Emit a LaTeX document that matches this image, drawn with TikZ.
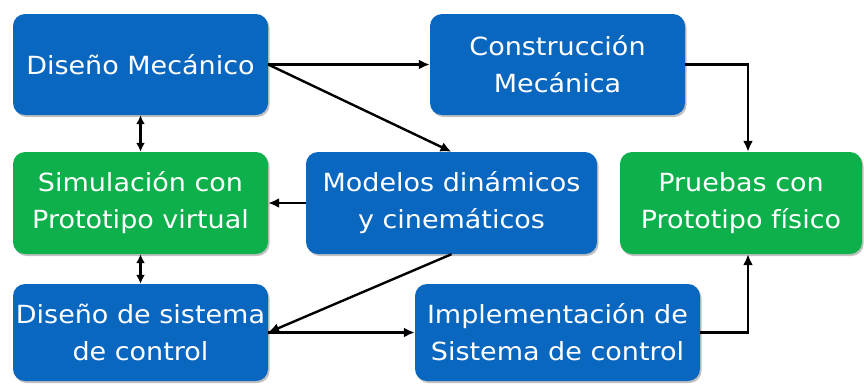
\documentclass[tikz,border=0pt]{standalone}
\usepackage{fontspec}
\setmainfont[FakeStretch=1.08]{DejaVu Sans}
\usetikzlibrary{arrows.meta,shadows}
\definecolor{boxblue}{RGB}{10,103,192}
\definecolor{boxgreen}{RGB}{13,176,75}
\begin{document}
\begin{tikzpicture}[x=1pt,y=-1pt,
  box/.style={rounded corners=12pt, text=white, align=center, inner sep=0pt,
    font=\fontsize{25}{37}\selectfont,
    drop shadow={shadow xshift=1.5pt, shadow yshift=-2pt, opacity=0.35, fill=black!70}},
  bluebox/.style={box, fill=boxblue},
  greenbox/.style={box, fill=boxgreen},
  conn/.style={line width=2.4pt, -{Latex[length=11pt,width=10pt]}},
  dconn/.style={line width=2.4pt, {Latex[length=9pt,width=9pt]}-{Latex[length=9pt,width=9pt]}}]
\useasboundingbox (0,0) rectangle (864,384);
\node[bluebox, minimum width=255pt, minimum height=101pt] (dm) at (140.5,64.5) {Diseño Mecánico};
\node[bluebox, minimum width=255pt, minimum height=101pt] (cm) at (557.5,64.5) {Construcción\\Mecánica};
\node[greenbox, minimum width=255pt, minimum height=102pt] (sim) at (140.5,203) {Simulación con\\Prototipo virtual};
\node[bluebox, minimum width=291pt, minimum height=102pt] (mod) at (451.5,203) {Modelos dinámicos\\y cinemáticos};
\node[greenbox, minimum width=242pt, minimum height=102pt] (pru) at (741,203) {Pruebas con\\Prototipo físico};
\node[bluebox, minimum width=255pt, minimum height=97pt] (dsc) at (140.5,332.5) {Diseño de sistema\\de control};
\node[bluebox, minimum width=285pt, minimum height=97pt] (imp) at (557.5,332.5) {Implementación de\\Sistema de control};
\draw[conn] (dm.east) -- (cm.west);
\draw[conn] (dm.east) -- (mod.north);
\draw[conn] (cm.east) -| ([xshift=7pt]pru.north);
\draw[conn] (mod.west) -- (sim.east);
\draw[dconn] (dm.south) -- (sim.north);
\draw[dconn] (sim.south) -- (dsc.north);
\draw[conn] (mod.south) -- (dsc.east);
\draw[conn] (dsc.east) -- (imp.west);
\draw[conn] (imp.east) -| ([xshift=7pt]pru.south);
\end{tikzpicture}
\end{document}
